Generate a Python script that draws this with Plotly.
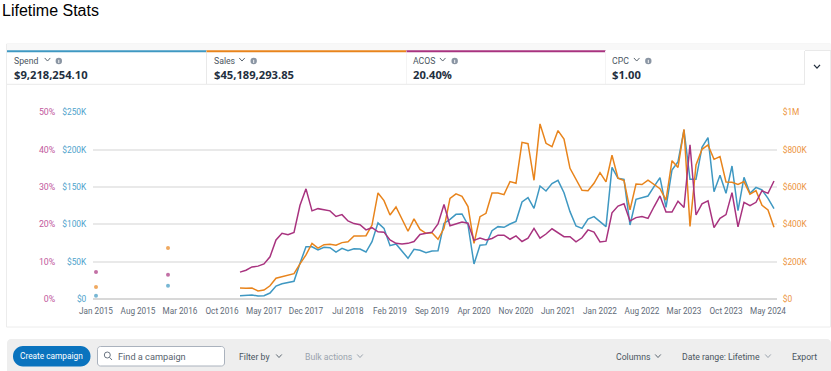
import plotly.graph_objects as go

W, H = 831, 371
BLUE, ORANGE, PURPLE = "#3f98c2", "#e8841c", "#a8337f"

month_names = ["Jan", "Feb", "Mar", "Apr", "May", "Jun", "Jul", "Aug", "Sep", "Oct", "Nov", "Dec"]
months = [f"{m} {y}" for y in range(2015, 2025) for m in month_names][:114]
tick_labels = ["Jan 2015", "Aug 2015", "Mar 2016", "Oct 2016", "May 2017", "Dec 2017", "Jul 2018", "Feb 2019",
               "Sep 2019", "Apr 2020", "Nov 2020", "Jun 2021", "Jan 2022", "Aug 2022", "Mar 2023", "Oct 2023", "May 2024"]

# Isolated early months, then continuous months Jan 2017 .. Jun 2024
spend_early_k = [4.5, 17.9]
sales_early_k = [64, 273]
acos_early = [7.2, 6.5]
spend_k_run = [4.5, 4.5, 5.4, 4.0, 4.5, 8, 17.4, 20.5, 21.9, 23.7, 47.8, 70, 70, 65.6, 69.2, 68.7, 62.9, 67.9, 64.7, 67.4,
               67, 62.9, 76.8, 102, 94.6, 71.4, 73.7, 63.8, 54.5, 66.5, 65.2,
               62, 64.3, 64.7, 101.3, 106.7, 113.4, 113.8, 99.1, 46.9, 71.9, 72.8, 91.5, 96.9, 96, 100.4, 104, 129.9, 135.7,
               121.4, 151.3, 144.6, 154.5, 158.9, 142.4, 117, 97.8, 94.6, 107.1, 110.3, 103.6,
               96.9, 176.3, 161.6, 160.3, 99.1, 133.5, 135.7, 137.9, 150.4, 162.5, 122.8, 172.8, 183.9, 226.3, 160.3, 160.3,
               203.1, 216.1, 143.7, 165.6, 141.5, 178.1, 118.3, 162.9, 141.5, 149.5, 146, 134.8, 121]
sales_k_run = [59, 57, 59, 43, 48, 71, 111, 118, 127, 136, 188, 236, 298, 273, 291, 293, 288, 302, 307, 338, 338, 339, 396,
               568, 527, 450, 493, 432, 363, 429, 373,
               352, 355, 320, 379, 539, 563, 550, 495, 298, 441, 459, 568, 568, 559, 629, 620, 839, 832, 636, 938, 834, 816,
               902, 857, 700, 641, 582, 580, 620, 677,
               627, 770, 647, 634, 477, 616, 613, 636, 613, 591, 530, 741, 705, 909, 389, 718, 802, 825, 748, 763, 627, 625,
               614, 629, 561, 580, 502, 477, 384]
acos_run = [7.2, 7.7, 8.6, 8.8, 9.4, 11.3, 15.8, 17.6, 17.2, 17.8, 25.1, 29.5, 23.6, 24.2, 23.9, 23.6, 22.1, 22.6, 20.9, 20.2,
            19.9, 18.5, 19.1, 18, 17.9, 15.8, 14.9, 14.7, 14.9, 15.4, 17.3,
            17.6, 17.9, 20.1, 25.3, 19.6, 20.2, 20.6, 20.3, 15.7, 16.3, 15.8, 16.2, 17.1, 17.1, 16, 16.9, 15.4, 16.3, 18.9,
            16.3, 17.4, 18.8, 17.7, 16.7, 16.7, 15.3, 16.4, 18.5, 17.9, 15.3,
            15.5, 23.1, 24.9, 25.5, 20.9, 21.8, 22.1, 21.6, 24.7, 27.6, 23.3, 23.3, 26.2, 24.5, 41.3, 22.5, 25.5, 26.3, 19.1,
            21.6, 22.6, 28.5, 19.3, 25.9, 25, 25.9, 29, 28.3, 31.6]

spend_ticks = [0, 50, 100, 150, 200, 250]
spend_tick_text = ["$0", "$50K", "$100K", "$150K", "$200K", "$250K"]
sales_ticks = [0, 200, 400, 600, 800, 1000]
sales_tick_text = ["$0", "$200K", "$400K", "$600K", "$800K", "$1M"]
acos_ticks = [0, 10, 20, 30, 40, 50]
acos_tick_text = ["0%", "10%", "20%", "30%", "40%", "50%"]

metric_labels = ["Spend", "Sales", "ACOS", "CPC"]
metric_values = ["$9,218,254.10", "$45,189,293.85", "20.40%", "$1.00"]


def series(early, run):
    return [early[0]] + [None] * 11 + [early[1]] + [None] * 11 + run


def px(x):
    return x / W


def py(y):
    return 1 - y / H


shapes, annos = [], []


def rect(x0, y0, x1, y1, fill="rgba(0,0,0,0)", line=None, lw=1):
    shapes.append(dict(type="rect", xref="paper", yref="paper", x0=px(x0), x1=px(x1), y0=py(y0), y1=py(y1),
                       fillcolor=fill, line=dict(color=line or "rgba(0,0,0,0)", width=lw if line else 0), layer="below"))


def pill(x0, y0, x1, y1, r, fill, line=None, lw=1):
    k = 0.45 * r
    d = (f"M{px(x0 + r)},{py(y0)} L{px(x1 - r)},{py(y0)} C{px(x1 - k)},{py(y0)} {px(x1)},{py(y0 + k)} {px(x1)},{py(y0 + r)} "
         f"L{px(x1)},{py(y1 - r)} C{px(x1)},{py(y1 - k)} {px(x1 - k)},{py(y1)} {px(x1 - r)},{py(y1)} "
         f"L{px(x0 + r)},{py(y1)} C{px(x0 + k)},{py(y1)} {px(x0)},{py(y1 - k)} {px(x0)},{py(y1 - r)} "
         f"L{px(x0)},{py(y0 + r)} C{px(x0)},{py(y0 + k)} {px(x0 + k)},{py(y0)} {px(x0 + r)},{py(y0)} Z")
    shapes.append(dict(type="path", xref="paper", yref="paper", path=d, fillcolor=fill,
                       line=dict(color=line or "rgba(0,0,0,0)", width=lw if line else 0), layer="below"))


def hline(x0, x1, y, color, lw=1):
    shapes.append(dict(type="line", xref="paper", yref="paper", x0=px(x0), x1=px(x1), y0=py(y), y1=py(y),
                       line=dict(color=color, width=lw), layer="below"))


def vline(x, y0, y1, color, lw=1, layer="below"):
    shapes.append(dict(type="line", xref="paper", yref="paper", x0=px(x), x1=px(x), y0=py(y0), y1=py(y1),
                       line=dict(color=color, width=lw), layer=layer))


def chevron(cx, cy, color, s=3, lw=1.2):
    d = f"M{px(cx - s)},{py(cy - s * 0.55)} L{px(cx)},{py(cy + s * 0.55)} L{px(cx + s)},{py(cy - s * 0.55)}"
    shapes.append(dict(type="path", xref="paper", yref="paper", path=d, line=dict(color=color, width=lw), layer="above"))


def circle(cx, cy, r, fill="rgba(0,0,0,0)", line=None, lw=1):
    shapes.append(dict(type="circle", xref="paper", yref="paper", x0=px(cx - r), x1=px(cx + r), y0=py(cy - r), y1=py(cy + r),
                       fillcolor=fill, line=dict(color=line or "rgba(0,0,0,0)", width=lw if line else 0), layer="above"))


def text(x, y, s, size, color, family="Roboto, sans-serif", anchor="left"):
    annos.append(dict(xref="paper", yref="paper", x=px(x), y=py(y), text=s, showarrow=False, xanchor=anchor, yanchor="middle",
                      borderpad=0, borderwidth=0, font=dict(size=size, color=color, family=family)))


UI = "Roboto, sans-serif"
BOLD = "Open Sans, sans-serif"
# Frame
rect(6.5, 44, 830.5, 327, fill="#ffffff", line="#ececec")
rect(7, 44, 831, 50, fill="#f8f8f8")
# Metric cards
tab_x = [7, 206.5, 406.5, 605.5]
tab_end = [206.5, 406.5, 605.5, 804.5]
tab_colors = [BLUE, ORANGE, PURPLE, None]
label_x = [14, 213.5, 412.8, 612.3]
chev_offset = [33.5, 28.5, 29.9, 24.4]
info_offset = [44.8, 40.2, 41.9, 36]
for i in range(4):
    rect(tab_end[i] - 199, 51, tab_end[i], 84, fill="#ffffff")
    if tab_colors[i]:
        hline(tab_x[i], tab_end[i], 51.2, tab_colors[i], 2)
    vline(tab_end[i], 51, 84, "#e9e9e9")
    text(label_x[i], 60.5, metric_labels[i], 8.7, "#4a5560", UI)
    text(label_x[i], 74, f"<b>{metric_values[i]}</b>", 11.2, "#232f3e", BOLD)
    chevron(label_x[i] + chev_offset[i], 59.5, "#5b6670", 2.8, 1)
    circle(label_x[i] + info_offset[i], 61, 3.2, fill="#8a95a3")
    vline(label_x[i] + info_offset[i], 59.8, 63, "#ffffff", 0.9, layer="above")
hline(7, 805, 84.3, "#e9e9e9")
hline(805, 831, 50.5, "#e9e9e9")
chevron(817, 66.5, "#232f3e", 3, 1.3)
# Title
text(2, 10.5, "Lifetime Stats", 16, "#000000", "Liberation Sans, Arial, sans-serif")
# Toolbar
pill(7, 339, 831, 375, 4, "#eeeeee")
pill(13, 346, 90.5, 366.5, 10, "#0a73be")
text(51.7, 356.3, "Create campaign", 8.3, "#ffffff", UI, anchor="center")
pill(97.5, 346.5, 224.5, 366, 3, "#ffffff", line="#aab2bd", lw=1)
circle(107.3, 355, 3, line="#6c7683", lw=1)
shapes.append(dict(type="line", xref="paper", yref="paper", x0=px(109.5), x1=px(112), y0=py(357.3), y1=py(360),
                   line=dict(color="#6c7683", width=1), layer="above"))
text(117.5, 356.5, "Find a campaign", 9.2, "#59636e", UI)
text(238.5, 356.5, "Filter by", 8.7, "#4a5560", UI)
chevron(279, 356, "#5b6670", 2.8, 1)
text(305, 356.5, "Bulk actions", 8.7, "#9aa3ad", UI)
chevron(360, 356, "#9aa3ad", 2.8, 1)
text(616, 356.5, "Columns", 8.7, "#4a5560", UI)
chevron(658, 356, "#5b6670", 2.8, 1)
text(682, 356.5, "Date range: Lifetime", 8.7, "#4a5560", UI)
chevron(768, 356, "#9aa3ad", 2.8, 1)
text(792, 356.5, "Export", 8.7, "#4a5560", UI)

fig = go.Figure()
for name, y, col, ax in [("Spend", series(spend_early_k, spend_k_run), BLUE, "y"),
                         ("Sales", series(sales_early_k, sales_k_run), ORANGE, "y2"),
                         ("ACOS", series(acos_early, acos_run), PURPLE, "y3")]:
    sizes = [4 if i in (0, 12) else 0 for i in range(len(y))]
    fig.add_trace(go.Scatter(x=months, y=y, name=name, yaxis=ax, mode="lines+markers",
                             line=dict(color=col, width=1.5), marker=dict(color=col, size=sizes, line=dict(width=0)),
                             connectgaps=False, hoverinfo="skip"))

dom_y = [py(299), py(112.3)]
tick_font = "Roboto, sans-serif"
fig.update_layout(
    width=W, height=H, margin=dict(l=0, r=0, t=0, b=0, pad=0, autoexpand=False), showlegend=False,
    paper_bgcolor="#ffffff", plot_bgcolor="rgba(0,0,0,0)", shapes=shapes, annotations=annos,
    xaxis=dict(domain=[px(93), px(777)], type="category", categoryorder="array", categoryarray=months, range=[-0.5, 113.5],
               tickmode="array", tickvals=tick_labels, ticktext=tick_labels, tickangle=0, showgrid=False, zeroline=False,
               ticks="outside", ticklen=4, tickcolor="rgba(0,0,0,0)",
               showline=False, tickfont=dict(size=8.2, color="#5f6b78", family=tick_font)),
    yaxis=dict(domain=dom_y, range=[0, 250], tickmode="array", tickvals=spend_ticks, ticktext=spend_tick_text,
               showgrid=True, gridcolor="#e9e9e9", gridwidth=1.5, zeroline=True, zerolinecolor="#d8d8d8", zerolinewidth=2,
               ticks="outside", ticklen=4, tickcolor="rgba(0,0,0,0)", tickfont=dict(size=8.4, color="#4fa3cc", family=tick_font)),
    yaxis2=dict(domain=dom_y, range=[0, 1000], overlaying="y", side="right", anchor="x", tickmode="array", tickvals=sales_ticks,
                ticktext=sales_tick_text, showgrid=False, zeroline=False, ticks="outside", ticklen=3, tickcolor="rgba(0,0,0,0)",
                tickfont=dict(size=8.4, color="#ec9440", family=tick_font)),
    yaxis3=dict(domain=dom_y, range=[0, 50], overlaying="y", side="left", anchor="free", position=px(58), tickmode="array",
                tickvals=acos_ticks, ticktext=acos_tick_text, showgrid=False, zeroline=False, ticks="outside", ticklen=1,
                tickcolor="rgba(0,0,0,0)", tickfont=dict(size=8.8, color="#c2599d", family=tick_font)),
)
fig.write_html("out.html", config={"displayModeBar": False},
               post_script="document.body.style.margin='0';document.body.style.overflow='hidden';")
